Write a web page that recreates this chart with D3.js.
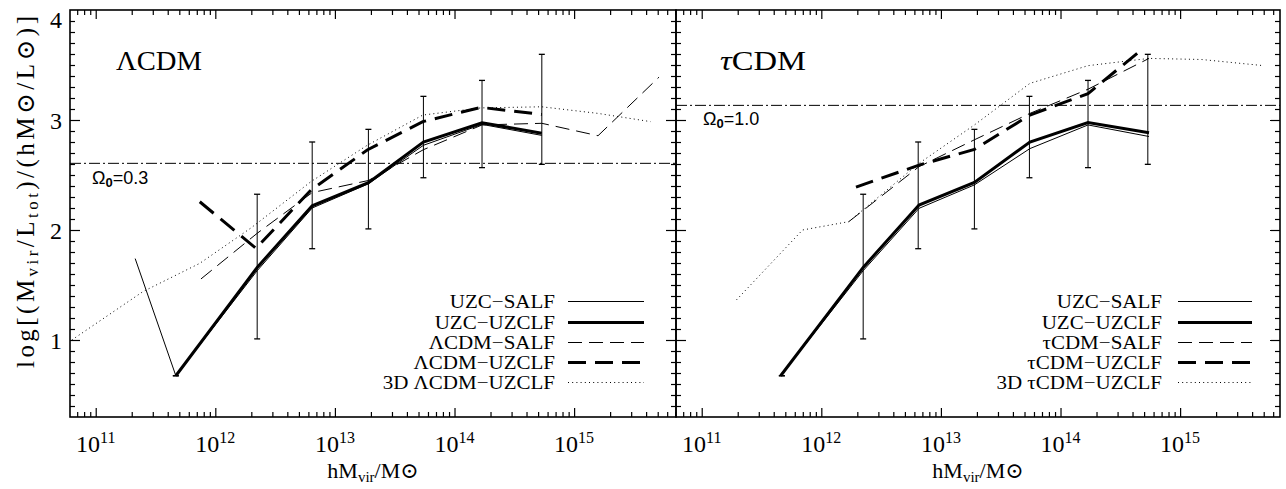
<!DOCTYPE html>
<html>
<head>
<meta charset="utf-8">
<script src="https://cdn.jsdelivr.net/npm/d3@7"></script>
<style>
  body { margin: 0; background: #fff; }
  text { fill: #000; }
</style>
</head>
<body>
<svg id="chart" width="1286" height="489"></svg>
<script>
// ---- data: [log10(h Mvir / Msun), log(Mvir/Ltot)] ----
// observed UZC error bars (shared by both panels)
const errMass = [11.67, 12.35, 12.81, 13.28, 13.74, 14.23, 14.73];
const errLow  = [0.675, 1.01, 1.83, 2.01, 2.475, 2.567, 2.597];
const errHigh = [0.675, 2.325, 2.80, 2.915, 3.215, 3.36, 3.597];

// ΛCDM panel
const lcdmUzcSalf   = [[11.33, 1.74], [11.67, 0.675], [12.35, 1.63], [12.81, 2.20], [13.28, 2.42], [13.74, 2.77], [14.23, 2.96], [14.73, 2.86]];
const lcdmUzcUzclf  = [[11.67, 0.675], [12.35, 1.66], [12.81, 2.22], [13.28, 2.43], [13.74, 2.80], [14.23, 2.975], [14.73, 2.88]];
const lcdmSimSalf   = [[11.88, 1.555], [12.35, 1.97], [12.81, 2.34], [13.28, 2.45], [13.74, 2.73], [14.23, 2.955], [14.73, 2.97], [15.20, 2.857], [15.71, 3.39]];
const lcdmSimUzclf  = [[11.87, 2.257], [12.34, 1.833], [12.80, 2.364], [13.27, 2.727], [13.735, 2.985], [14.22, 3.115], [14.73, 3.05]];
const lcdm3dUzclf   = [[10.80, 1.0], [11.395, 1.44], [11.87, 1.697], [12.30, 2.02], [12.80, 2.44], [13.27, 2.77], [13.735, 3.045], [14.22, 3.11], [14.73, 3.12], [15.20, 3.06], [15.64, 2.985]];

// τCDM panel
const tcdmUzcSalf   = [[11.66, 0.675], [12.35, 1.63], [12.817, 2.197], [13.28, 2.41], [13.744, 2.74], [14.23, 2.955], [14.74, 2.85]];
const tcdmUzcUzclf  = [[11.66, 0.675], [12.35, 1.66], [12.817, 2.227], [13.28, 2.433], [13.744, 2.80], [14.23, 2.976], [14.74, 2.885]];
const tcdmSimSalf   = [[12.23, 2.076], [12.817, 2.576], [13.28, 2.82], [13.744, 3.06], [14.23, 3.28], [14.74, 3.56]];
const tcdmSimUzclf  = [[12.29, 2.39], [12.817, 2.59], [13.28, 2.733], [13.744, 3.045], [14.23, 3.24], [14.68, 3.64]];
const tcdm3dUzclf   = [[11.29, 1.364], [11.843, 2.0], [12.23, 2.076], [12.817, 2.606], [13.28, 2.955], [13.744, 3.333], [14.23, 3.494], [14.74, 3.56], [15.18, 3.55], [15.69, 3.495]];

// mean mass-to-light ratio for each density parameter
const omegaLabels = ["0.3", "1.0"];
const omegaLevels = [2.606, 3.133];

const panelTitles = ["ΛCDM", "τCDM"];
const xTickExponents = [11, 12, 13, 14, 15];
const yTickValues = [1, 2, 3, 4];
const legendNamesL = ["UZC−SALF", "UZC−UZCLF", "ΛCDM−SALF", "ΛCDM−UZCLF", "3D ΛCDM−UZCLF"];
const legendNamesR = ["UZC−SALF", "UZC−UZCLF", "τCDM−SALF", "τCDM−UZCLF", "3D τCDM−UZCLF"];

// ---- styles ----
const styles = [
  { w: 1,   dash: null },          // thin solid
  { w: 3,   dash: null },          // thick solid
  { w: 1,   dash: "14,7" },        // thin dashed
  { w: 3,   dash: "18,9" },        // thick dashed
  { w: 1,   dash: "1,3.2" }        // dotted
];

const SERIF = "'Liberation Serif', 'DejaVu Serif', serif";
const SANS = "'Liberation Sans', 'DejaVu Sans', sans-serif";

const svg = d3.select("#chart");
const yTop = 10, yBot = 417;
const y = d3.scaleLinear().domain([0.3, 4]).range([yBot, yTop]);
const logMin = 10.785, pxPerDecade = 119.6;

const panels = [
  { x0: 70, x1: 676, series: [lcdmUzcSalf, lcdmUzcUzclf, lcdmSimSalf, lcdmSimUzclf, lcdm3dUzclf],
    legend: legendNamesL, title: panelTitles[0], italicFirst: false, titleX: 116,
    omegaIdx: 0, omegaX: 92, omegaY: 184, legendTextX: 555, legendLine: [568, 644] },
  { x0: 676, x1: 1280, series: [tcdmUzcSalf, tcdmUzcUzclf, tcdmSimSalf, tcdmSimUzclf, tcdm3dUzclf],
    legend: legendNamesR, title: panelTitles[1], italicFirst: true, titleX: 720,
    omegaIdx: 1, omegaX: 703, omegaY: 125, legendTextX: 1162, legendLine: [1178, 1252] }
];

const legendRows = [301.5, 322.5, 342.5, 362.5, 382.5];

function minorTicks(x) {
  const [a, b] = x.domain();
  const out = [];
  for (let e = 10; e <= 16; e++) {
    for (let m = 2; m <= 9; m++) {
      const v = m * Math.pow(10, e);
      if (v > a && v < b) out.push(v);
    }
  }
  return out;
}

// measure a label at a given size so it can be stretched to its set width
const measurer = svg.append("text").attr("font-family", SERIF).attr("visibility", "hidden");
function textWidth(str, size) {
  measurer.attr("font-size", size).text(str);
  return measurer.node().getComputedTextLength();
}

panels.forEach((p, i) => {
  const x = d3.scaleLog()
    .domain([Math.pow(10, logMin), Math.pow(10, logMin + (p.x1 - p.x0) / pxPerDecade)])
    .range([p.x0, p.x1]);
  const majors = xTickExponents.map(e => Math.pow(10, e));
  const minors = minorTicks(x);

  const g = svg.append("g");
  const clipId = "clip" + i;
  svg.append("clipPath").attr("id", clipId)
    .append("rect").attr("x", p.x0).attr("y", yTop).attr("width", p.x1 - p.x0).attr("height", yBot - yTop);

  // axes ticks (inward)
  const tickGroups = [
    [d3.axisBottom(x).tickValues(minors).tickSize(-5), `translate(0,${yBot})`],
    [d3.axisBottom(x).tickValues(majors).tickSize(-9), `translate(0,${yBot})`],
    [d3.axisTop(x).tickValues(minors).tickSize(-5), `translate(0,${yTop})`],
    [d3.axisTop(x).tickValues(majors).tickSize(-9), `translate(0,${yTop})`]
  ];
  const yMinor = d3.range(4, 40).map(v => v / 10).filter(v => ![1, 2, 3].includes(v));
  tickGroups.push([d3.axisLeft(y).tickValues(yMinor).tickSize(-5), `translate(${p.x0},0)`]);
  tickGroups.push([d3.axisLeft(y).tickValues([1, 2, 3]).tickSize(-10), `translate(${p.x0},0)`]);
  tickGroups.push([d3.axisRight(y).tickValues(yMinor).tickSize(-5), `translate(${p.x1},0)`]);
  tickGroups.push([d3.axisRight(y).tickValues([1, 2, 3]).tickSize(-10), `translate(${p.x1},0)`]);
  tickGroups.forEach(([ax, tr]) => {
    g.append("g").attr("transform", tr)
      .call(ax.tickFormat(""))
      .call(s => s.select(".domain").remove())
      .call(s => s.selectAll("line").attr("stroke", "#000").attr("stroke-width", 1.2));
  });

  // frame
  g.append("rect").attr("x", p.x0).attr("y", yTop).attr("width", p.x1 - p.x0).attr("height", yBot - yTop)
    .attr("fill", "none").attr("stroke", "#000").attr("stroke-width", 1.6);

  // x tick labels: 10^n
  majors.forEach((v, k) => {
    const t = g.append("text").attr("x", x(v)).attr("y", 452)
      .attr("text-anchor", "middle").attr("font-family", SERIF).attr("font-size", 24);
    t.append("tspan").text("10");
    t.append("tspan").attr("dy", -9).attr("font-size", 16).text(String(xTickExponents[k]));
  });

  // y tick labels (left panel only)
  if (i === 0) {
    yTickValues.forEach(v => {
      const yy = v === 4 ? 19.5 : y(v);
      g.append("text").attr("x", 62).attr("y", yy + 8.5)
        .attr("text-anchor", "end").attr("font-family", SERIF).attr("font-size", 24).text(v);
    });
  }

  // x axis title
  const xt = g.append("text").attr("x", (p.x0 + p.x1) / 2).attr("y", 478)
    .attr("text-anchor", "middle").attr("font-family", SERIF).attr("font-size", 22);
  xt.append("tspan").text("hM");
  xt.append("tspan").attr("dy", 4).attr("font-size", 15).text("vir");
  xt.append("tspan").attr("dy", -4).text("/M⊙");

  const plot = g.append("g").attr("clip-path", `url(#${clipId})`);

  // density-parameter reference line
  plot.append("line")
    .attr("x1", p.x0).attr("x2", p.x1)
    .attr("y1", y(omegaLevels[p.omegaIdx])).attr("y2", y(omegaLevels[p.omegaIdx]))
    .attr("stroke", "#000").attr("stroke-width", 1).attr("stroke-dasharray", "11,3,2,3");

  const om = g.append("text").attr("x", p.omegaX).attr("y", p.omegaY)
    .attr("font-family", SANS).attr("font-size", 18);
  om.append("tspan").text("Ω");
  om.append("tspan").attr("dy", 3).attr("font-size", 13).attr("font-weight", "bold").text("0");
  om.append("tspan").attr("dy", -3).text("=" + omegaLabels[p.omegaIdx]);

  // error bars
  const eb = plot.append("g").attr("stroke", "#000").attr("stroke-width", 1);
  errMass.forEach((m, k) => {
    const xx = x(Math.pow(10, m));
    eb.append("line").attr("x1", xx).attr("x2", xx).attr("y1", y(errLow[k])).attr("y2", y(errHigh[k]));
    [errLow[k], errHigh[k]].forEach(v => {
      eb.append("line").attr("x1", xx - 3).attr("x2", xx + 3).attr("y1", y(v)).attr("y2", y(v)).attr("stroke-width", 1.3);
    });
  });

  // curves
  const line = d3.line().x(d => x(Math.pow(10, d[0]))).y(d => y(d[1]));
  p.series.forEach((s, k) => {
    plot.append("path").datum(s).attr("d", line)
      .attr("fill", "none").attr("stroke", "#000")
      .attr("stroke-width", styles[k].w)
      .attr("stroke-linejoin", "miter")
      .attr("stroke-dasharray", styles[k].dash);
  });

  // legend: compact glyphs, stretched to the full label width
  p.legend.forEach((name, k) => {
    const ly = legendRows[k];
    const fullW = textWidth(name, 21);
    g.append("text").attr("x", p.legendTextX).attr("y", ly + 6.8)
      .attr("text-anchor", "end").attr("font-family", SERIF).attr("font-size", 18.5)
      .attr("textLength", fullW).attr("lengthAdjust", "spacingAndGlyphs")
      .text(name);
    g.append("line").attr("x1", p.legendLine[0]).attr("x2", p.legendLine[1])
      .attr("y1", ly).attr("y2", ly)
      .attr("stroke", "#000").attr("stroke-width", styles[k].w)
      .attr("stroke-dasharray", styles[k].dash);
  });

  // panel title
  const tt = g.append("text").attr("x", p.titleX).attr("y", 70)
    .attr("font-family", SERIF).attr("font-size", 27)
    .attr("textLength", 86).attr("lengthAdjust", "spacingAndGlyphs");
  if (p.italicFirst) {
    tt.append("tspan").attr("font-style", "italic").text(p.title[0]);
    tt.append("tspan").text(p.title.slice(1));
  } else {
    tt.text(p.title);
  }
});

measurer.remove();

// y axis title
const yt = svg.append("text")
  .attr("transform", "translate(34,192) rotate(-90)")
  .attr("text-anchor", "middle").attr("font-family", SERIF).attr("font-size", 25)
  .attr("textLength", 352).attr("lengthAdjust", "spacing");
yt.append("tspan").text("log[(M");
yt.append("tspan").attr("dy", 4).attr("font-size", 17).text("vir");
yt.append("tspan").attr("dy", -4).text("/L");
yt.append("tspan").attr("dy", 4).attr("font-size", 17).text("tot");
yt.append("tspan").attr("dy", -4).text(")/(hM⊙/L⊙)]");
</script>
</body>
</html>
